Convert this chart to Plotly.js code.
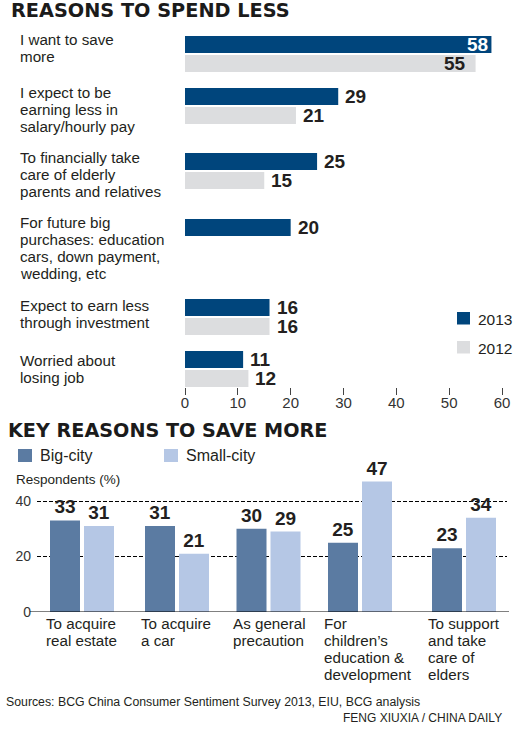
<!DOCTYPE html>
<html>
<head>
<meta charset="utf-8">
<script src="https://cdn.plot.ly/plotly-3.0.1.min.js"></script>
<style>
  html, body { margin: 0; padding: 0; background: #ffffff; }
  #chart { width: 515px; height: 731px; }
</style>
</head>
<body>
<div id="chart"></div>
<script>
// ---------------- DATA ----------------
const spendTitle = 'REASONS TO SPEND LESS';
const spendReasons = [
  'I want to save<br>more',
  'I expect to be<br>earning less in<br>salary/hourly pay',
  'To financially take<br>care of elderly<br>parents and relatives',
  'For future big<br>purchases: education<br>cars, down payment,<br>wedding, etc',
  'Expect to earn less<br>through investment',
  'Worried about<br>losing job'
];
const yearNames = ['2013', '2012'];
const spend2013 = [58, 29, 25, 20, 16, 11];
const spend2012 = [55, 21, 15, null, 16, 12];
const spendTicks = [0, 10, 20, 30, 40, 50, 60];

const saveTitle = 'KEY REASONS TO SAVE MORE';
const saveReasons = [
  'To acquire<br>real estate',
  'To acquire<br>a car',
  'As general<br>precaution',
  'For<br>children\u2019s<br>education &amp;<br>development',
  'To support<br>and take<br>care of<br>elders'
];
const cityNames = ['Big-city', 'Small-city'];
const bigCity = [33, 31, 30, 25, 23];
const smallCity = [31, 21, 29, 47, 34];
const saveTicks = [0, 20, 40];
const saveAxisTitle = 'Respondents (%)';
const sourceText = 'Sources: BCG China Consumer Sentiment Survey 2013, EIU, BCG analysis';
const creditText = 'FENG XIUXIA / CHINA DAILY';

// ---------------- LAYOUT / STYLE ----------------
const W = 515, H = 731;
const C2013 = '#00457c', C2012 = '#dcdddf';
const CBIG = '#5b7ba2', CSMALL = '#b5c7e5';
const TXT = '#231f20';
const BODY = '"Liberation Sans", Arial, sans-serif';
const BOLD = '"Liberation Sans", Arial, sans-serif';
const HEAD = '"DejaVu Sans", sans-serif';
const LBL = 15.2;   // label font size
const LINE = 17;    // label line spacing

// slot positions (pixel-like axis units)
const rowPos = [54, 106, 171, 237, 317, 369];
const rowLabelBase = [45, 98, 163, 228, 311, 366];
const slotPos = [82, 177, 268.5, 360, 464];

const py = v => 1 - v / H;
function lineAnn(text, px, baseline, size, o) {
  o = o || {};
  return {
    xref: 'paper', yref: 'paper', x: px / W, y: py(baseline - 0.3465 * size),
    xanchor: o.anchor || 'left', yanchor: 'middle', showarrow: false, borderpad: 0,
    text: text,
    font: { family: o.family || BODY, size: size, color: o.color || TXT, weight: o.weight || 400 }
  };
}

const annotations = [];
const shapes = [];

// titles
annotations.push(lineAnn(spendTitle, 10, 17, 19.3, { family: HEAD, weight: 700, color: '#1b1b1b' }));
annotations.push(lineAnn(saveTitle, 7, 437, 19.2, { family: HEAD, weight: 700, color: '#1b1b1b' }));

// top category labels (left-aligned multi-line)
spendReasons.forEach((lab, i) => {
  lab.split('<br>').forEach((ln, k) => {
    annotations.push(lineAnn(ln, 19, rowLabelBase[i] + LINE * k, LBL));
  });
});

// top value labels
[spend2013, spend2012].forEach((arr, s) => {
  arr.forEach((v, i) => {
    if (v === null) return;
    const inside = v >= 50;
    annotations.push({
      xref: 'x', yref: 'y', x: v, y: rowPos[i] + (s === 0 ? -9.5 : 9.5),
      xanchor: inside ? 'right' : 'left', yanchor: 'middle',
      xshift: inside ? (s === 0 ? -2 : -9) : 6, showarrow: false, borderpad: 0,
      text: String(v),
      font: { family: BOLD, size: 19, weight: 700, color: (inside && s === 0) ? '#ffffff' : TXT }
    });
  });
});

// top legend
[[C2013, 312], [C2012, 341]].forEach(([c, y0], s) => {
  shapes.push({ type: 'rect', xref: 'paper', yref: 'paper', x0: 457 / W, x1: 470 / W,
    y0: py(y0 + 12.5), y1: py(y0), fillcolor: c, line: { width: 0 } });
  annotations.push(lineAnn(yearNames[s], 477, y0 + 12.5, 15.5));
});

// bottom legend
[[CBIG, 18], [CSMALL, 164]].forEach(([c, x0], s) => {
  shapes.push({ type: 'rect', xref: 'paper', yref: 'paper', x0: x0 / W, x1: (x0 + 14) / W,
    y0: py(462), y1: py(449), fillcolor: c, line: { width: 0 } });
  annotations.push(lineAnn(cityNames[s], x0 + 21, 461.5, 16));
});

// axis title
annotations.push(lineAnn(saveAxisTitle, 15, 484.5, 13.5));

// bottom category labels
saveReasons.forEach((lab, i) => {
  lab.split('<br>').forEach((ln, k) => {
    annotations.push({
      xref: 'x2', yref: 'paper', x: slotPos[i], xshift: -37,
      y: py(629 + LINE * k - 0.3465 * LBL), xanchor: 'left', yanchor: 'middle',
      showarrow: false, borderpad: 0, text: ln,
      font: { family: BODY, size: LBL, color: TXT }
    });
  });
});

// baseline of the bottom chart (extends a little left of the grid)
shapes.push({ type: 'line', xref: 'paper', yref: 'y2', x0: 30 / W, x1: 509 / W, y0: 0, y1: 0,
  line: { color: '#000000', width: 1 }, layer: 'above' });

// sources & credit
annotations.push(lineAnn(sourceText, 5, 706, 12.3));
annotations.push(lineAnn(creditText, 503, 722, 12, { anchor: 'right' }));

// ---------------- TRACES ----------------
const traces = [
  { type: 'bar', orientation: 'h', name: yearNames[0], x: spend2013, y: rowPos,
    width: 17, offset: -18, marker: { color: C2013 }, xaxis: 'x', yaxis: 'y',
    hoverinfo: 'x', showlegend: false },
  { type: 'bar', orientation: 'h', name: yearNames[1], x: spend2012, y: rowPos,
    width: 17, offset: 1, marker: { color: C2012 }, xaxis: 'x', yaxis: 'y',
    hoverinfo: 'x', showlegend: false },
  { type: 'bar', name: cityNames[0], x: slotPos, y: bigCity, width: 30, offset: -32,
    marker: { color: CBIG }, xaxis: 'x2', yaxis: 'y2', showlegend: false,
    text: bigCity.map(String), textposition: 'outside', cliponaxis: false,
    textfont: { family: BOLD, size: 19, weight: 700, color: TXT }, hoverinfo: 'y' },
  { type: 'bar', name: cityNames[1], x: slotPos, y: smallCity, width: 30, offset: 2,
    marker: { color: CSMALL }, xaxis: 'x2', yaxis: 'y2', showlegend: false,
    text: smallCity.map(String), textposition: 'outside', cliponaxis: false,
    textfont: { family: BOLD, size: 19, weight: 700, color: TXT }, hoverinfo: 'y' }
];

const layout = {
  width: W, height: H,
  margin: { l: 0, r: 0, t: 0, b: 0, pad: 0 },
  paper_bgcolor: '#ffffff', plot_bgcolor: 'rgba(0,0,0,0)',
  barmode: 'overlay',
  showlegend: false,
  xaxis: {
    domain: [185 / W, 502 / W], range: [0, 60], anchor: 'y',
    tickvals: spendTicks, ticktext: spendTicks.map(String),
    ticks: 'outside', ticklen: 7, tickwidth: 1, tickcolor: '#444',
    ticklabelstandoff: -5,
    showgrid: false, zeroline: false, showline: false,
    tickfont: { family: BODY, size: 15, color: '#333' }
  },
  yaxis: {
    domain: [py(387), py(28)], range: [387, 28], anchor: 'x',
    visible: false, showgrid: false, zeroline: false
  },
  xaxis2: {
    domain: [37 / W, 507 / W], range: [37, 507], anchor: 'y2',
    showgrid: false, zeroline: false, showline: false, showticklabels: false, ticks: ''
  },
  yaxis2: {
    domain: [py(612), py(470)], range: [0, 142 / 2.775], anchor: 'x2',
    tickvals: saveTicks, ticktext: saveTicks.map(String),
    showgrid: true, gridcolor: '#000000', gridwidth: 1, griddash: '4px,2px',
    zeroline: false, showline: false, ticks: '', ticklabelstandoff: 5,
    tickfont: { family: BODY, size: 14, color: '#333' }
  },
  annotations: annotations,
  shapes: shapes
};

Plotly.newPlot('chart', traces, layout, { displayModeBar: false, staticPlot: true });
</script>
</body>
</html>
